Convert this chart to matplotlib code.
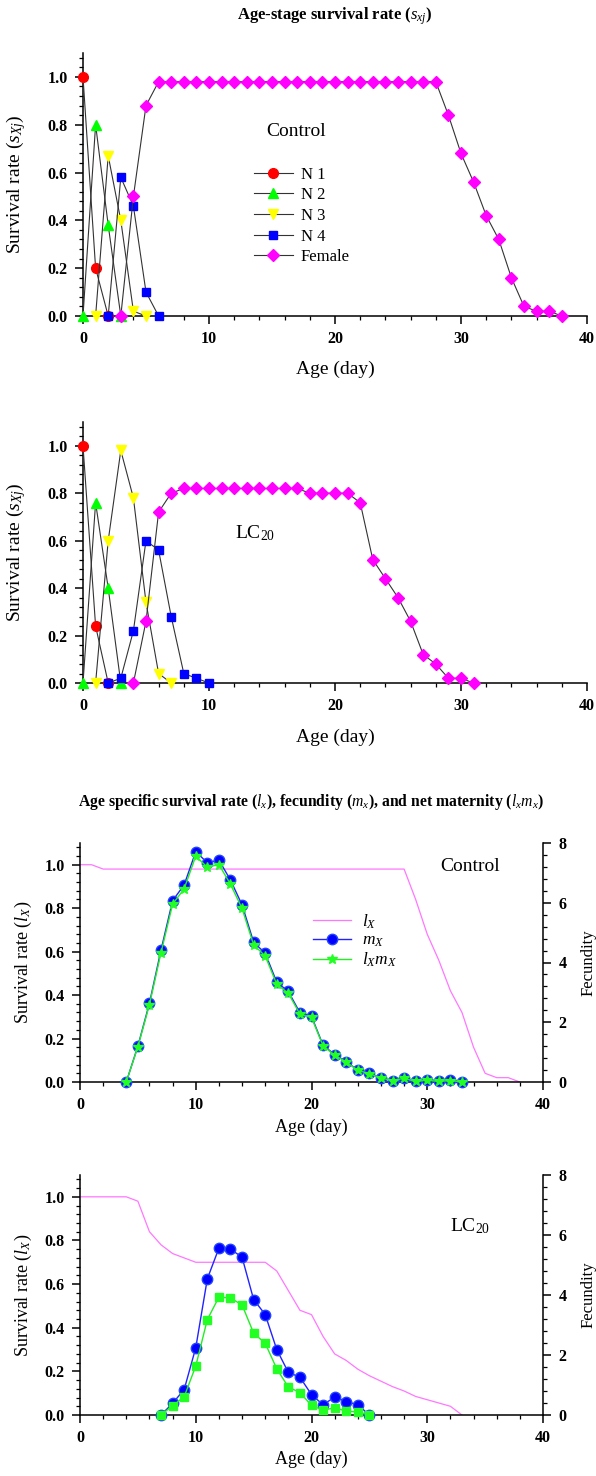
import numpy as np
from matplotlib import pyplot as plt
from matplotlib.ticker import MultipleLocator, FormatStrFormatter

# bold is the default so the tick labels come out bold, other text is set normal
plt.rcParams['font.family'] = 'Liberation Serif'
plt.rcParams['font.weight'] = 'bold'
plt.rcParams['axes.labelweight'] = 'normal'
plt.rcParams['mathtext.fontset'] = 'custom'
plt.rcParams['mathtext.rm'] = 'Liberation Serif:weight=normal'
plt.rcParams['mathtext.it'] = 'Liberation Serif:style=italic:weight=normal'
plt.rcParams['mathtext.bf'] = 'Liberation Serif:weight=bold'

# -------------------------------------------------------------------
# age-stage survival, control
ctrl_n1_x = [0, 1, 2]
ctrl_n1_y = [1.0, 0.2, 0.0]
ctrl_n2_x = [0, 1, 2, 3]
ctrl_n2_y = [0.0, 0.8, 0.38, 0.0]
ctrl_n3_x = [1, 2, 3, 4, 5]
ctrl_n3_y = [0.0, 0.67, 0.40, 0.02, 0.0]
ctrl_n4_x = [2, 3, 4, 5, 6]
ctrl_n4_y = [0.0, 0.58, 0.46, 0.10, 0.0]
ctrl_fem_x = list(range(3, 39))
ctrl_fem_y = [0.0, 0.50, 0.88, 0.98, 0.98, 0.98, 0.98, 0.98, 0.98, 0.98,
              0.98, 0.98, 0.98, 0.98, 0.98, 0.98, 0.98, 0.98, 0.98, 0.98,
              0.98, 0.98, 0.98, 0.98, 0.98, 0.98, 0.84, 0.68, 0.56, 0.42,
              0.32, 0.16, 0.04, 0.02, 0.02, 0.0]

# age-stage survival, LC20
lc_n1_x = [0, 1, 2]
lc_n1_y = [1.0, 0.24, 0.0]
lc_n2_x = [0, 1, 2, 3]
lc_n2_y = [0.0, 0.76, 0.40, 0.0]
lc_n3_x = [1, 2, 3, 4, 5, 6, 7]
lc_n3_y = [0.0, 0.60, 0.98, 0.78, 0.34, 0.04, 0.0]
lc_n4_x = [2, 3, 4, 5, 6, 7, 8, 9, 10]
lc_n4_y = [0.0, 0.02, 0.22, 0.60, 0.56, 0.28, 0.04, 0.02, 0.0]
lc_fem_x = list(range(4, 32))
lc_fem_y = [0.0, 0.26, 0.72, 0.80, 0.82, 0.82, 0.82, 0.82, 0.82, 0.82,
            0.82, 0.82, 0.82, 0.82, 0.80, 0.80, 0.80, 0.80, 0.76, 0.52,
            0.44, 0.36, 0.26, 0.12, 0.08, 0.02, 0.02, 0.0]

stage_names = ['N 1', 'N 2', 'N 3', 'N 4', 'Female']

# lx, mx, lxmx, control
ctrl_lx_x = list(range(0, 39))
ctrl_lx = [1.0, 1.0, 0.98, 0.98, 0.98, 0.98, 0.98, 0.98, 0.98, 0.98,
           0.98, 0.98, 0.98, 0.98, 0.98, 0.98, 0.98, 0.98, 0.98, 0.98,
           0.98, 0.98, 0.98, 0.98, 0.98, 0.98, 0.98, 0.98, 0.98, 0.84,
           0.68, 0.56, 0.42, 0.32, 0.16, 0.04, 0.02, 0.02, 0.0]
ctrl_mx_x = list(range(4, 34))
ctrl_mx = [0.0, 1.20, 2.64, 4.42, 6.07, 6.60, 7.71, 7.34, 7.43, 6.76,
           5.93, 4.68, 4.31, 3.34, 3.03, 2.32, 2.20, 1.23, 0.92, 0.68,
           0.40, 0.29, 0.13, 0.05, 0.12, 0.02, 0.08, 0.03, 0.07, 0.0]
ctrl_lxmx = [0.0, 1.18, 2.59, 4.33, 5.95, 6.47, 7.56, 7.19, 7.28, 6.62,
             5.81, 4.59, 4.22, 3.27, 2.97, 2.27, 2.16, 1.21, 0.90, 0.67,
             0.39, 0.28, 0.13, 0.05, 0.12, 0.02, 0.06, 0.02, 0.05, 0.0]

# lx, mx, lxmx, LC20
lc_lx_x = list(range(0, 34))
lc_lx = [1.0, 1.0, 1.0, 1.0, 1.0, 0.98, 0.84, 0.78, 0.74, 0.72,
         0.70, 0.70, 0.70, 0.70, 0.70, 0.70, 0.70, 0.66, 0.57, 0.48,
         0.46, 0.36, 0.28, 0.25, 0.21, 0.18, 0.155, 0.13, 0.11, 0.085,
         0.07, 0.055, 0.04, 0.0]
lc_mx_x = list(range(7, 26))
lc_mx = [0.0, 0.39, 0.85, 2.24, 4.54, 5.56, 5.53, 5.26, 3.85, 3.35,
         2.18, 1.42, 1.26, 0.68, 0.34, 0.60, 0.45, 0.34, 0.0]
lc_lxmx = [0.0, 0.31, 0.61, 1.63, 3.18, 3.93, 3.90, 3.67, 2.73, 2.39,
           1.54, 0.93, 0.75, 0.32, 0.16, 0.24, 0.13, 0.10, 0.0]

# -------------------------------------------------------------------
W, H = 596, 1476
fig = plt.figure(figsize=(W / 100, H / 100), dpi=100)


def box(left, right, top, bottom):
    return [left / W, 1 - bottom / H, (right - left) / W, (bottom - top) / H]


def style_axis(ax, ylabel, lab_x, lab_y, fs):
    ax.set_xlim(0, 40)
    ax.set_ylim(0, 1.1)
    ax.xaxis.set_major_locator(MultipleLocator(10))
    ax.xaxis.set_minor_locator(MultipleLocator(2))
    ax.yaxis.set_major_locator(MultipleLocator(0.2))
    ax.yaxis.set_minor_locator(MultipleLocator(0.04))
    ax.yaxis.set_major_formatter(FormatStrFormatter('%.1f'))
    for s in ['top', 'right']:
        ax.spines[s].set_visible(False)
    for s in ['left', 'bottom']:
        ax.spines[s].set_linewidth(1.1)
    ax.tick_params(which='major', direction='out', length=6, width=1.1,
                   labelsize=11.5, pad=5)
    ax.tick_params(which='minor', direction='out', length=3, width=0.9)
    ax.set_xlabel('Age (day)', fontsize=fs, fontweight='normal')
    ax.set_ylabel(ylabel, fontsize=fs, fontweight='normal')
    ax.yaxis.set_label_coords(lab_x, 0.5)
    ax.xaxis.set_label_coords(0.5, lab_y)


stage_style = [('o', '#ff0000'), ('^', '#00ff00'), ('v', '#ffff00'),
               ('s', '#0000ff'), ('D', '#ff00ff')]


def stage_panel(ax, xs, ys, tag, tag_xy, legend):
    for i in range(len(xs)):
        mk, col = stage_style[i]
        ms = 6 if mk in ['s', 'D'] else 7
        ax.plot(xs[i], ys[i], color='#333333', lw=0.8, marker=mk, ms=ms,
                mfc=col, mec=col, label=stage_names[i], clip_on=False,
                zorder=3 + i)
    ax.text(tag_xy[0], tag_xy[1], tag, transform=ax.transAxes, fontsize=14,
            fontweight='normal', ha='center', va='center')
    if legend:
        ax.legend(loc='upper left', bbox_to_anchor=(0.31, 0.625), frameon=False,
                  prop={'size': 12, 'weight': 'normal'}, handlelength=2.3,
                  labelspacing=0.28, handletextpad=0.5)


# -------------------------------------------------------------------
ax1 = fig.add_axes(box(83, 587, 53, 316))
stage_panel(ax1, [ctrl_n1_x, ctrl_n2_x, ctrl_n3_x, ctrl_n4_x, ctrl_fem_x],
            [ctrl_n1_y, ctrl_n2_y, ctrl_n3_y, ctrl_n4_y, ctrl_fem_y],
            'Control', (0.423, 0.703), True)
style_axis(ax1, r'Survival rate ($s_{Xj}$)', -0.11, -0.17, 14)

ax2 = fig.add_axes(box(83, 587, 422, 683))
stage_panel(ax2, [lc_n1_x, lc_n2_x, lc_n3_x, lc_n4_x, lc_fem_x],
            [lc_n1_y, lc_n2_y, lc_n3_y, lc_n4_y, lc_fem_y],
            r'LC$_{20}$', (0.341, 0.575), False)
style_axis(ax2, r'Survival rate ($s_{Xj}$)', -0.11, -0.175, 14)

fig.text(335 / W, 1 - 16 / H, r'Age-stage survival rate ($s_{xj}$)',
         fontsize=12, fontweight='bold', ha='center', va='center')
fig.text(311 / W, 1 - 802 / H,
         r'Age specific survival rate ($l_x$), fecundity ($m_x$), '
         r'and net maternity ($l_xm_x$)',
         fontsize=11.3, fontweight='bold', ha='center', va='center')


# -------------------------------------------------------------------
def life_panel(ax, lx_x, lx, mx_x, mx, lxmx, mk2, tag, tag_xy, legend):
    h1, = ax.plot(lx_x, lx, color='#ff77ff', lw=0.9, label=r'$l_X$')
    axr = ax.twinx()
    h2, = axr.plot(mx_x, mx, color='#2222ff', lw=1.0, marker='o', ms=7.5,
                   mfc='#0000ff', mec='#2244ff', label=r'$m_X$',
                   clip_on=False, zorder=3)
    ms2 = 7 if mk2 == '*' else 5.5
    h3, = axr.plot(mx_x, lxmx, color='#22ee22', lw=1.0, marker=mk2, ms=ms2,
                   mfc='#22ff22', mec='#22ff22', label=r'$l_Xm_X$',
                   clip_on=False, zorder=4)
    axr.set_ylim(0, 8)
    axr.yaxis.set_major_locator(MultipleLocator(2))
    axr.yaxis.set_minor_locator(MultipleLocator(0.4))
    for s in ['top', 'left', 'bottom']:
        axr.spines[s].set_visible(False)
    axr.spines['right'].set_linewidth(1.1)
    axr.tick_params(which='major', direction='out', length=6, width=1.1,
                    labelsize=11.5, pad=5)
    axr.tick_params(which='minor', direction='out', length=3, width=0.9)
    axr.set_ylabel('Fecundity', fontsize=12, fontweight='normal')
    axr.yaxis.set_label_coords(1.08, 0.5)
    ax.text(tag_xy[0], tag_xy[1], tag, transform=ax.transAxes, fontsize=14,
            fontweight='normal', ha='center', va='center')
    if legend:
        ax.legend(handles=[h1, h2, h3], loc='upper left',
                  bbox_to_anchor=(0.47, 0.775), frameon=False,
                  prop={'size': 12.5, 'weight': 'normal'},
                  handlelength=2.2, labelspacing=0.1, handletextpad=0.6)


ax3 = fig.add_axes(box(80, 543, 843, 1082))
style_axis(ax3, r'Survival rate ($l_X$)', -0.1, -0.155, 13)
life_panel(ax3, ctrl_lx_x, ctrl_lx, ctrl_mx_x, ctrl_mx, ctrl_lxmx, '*',
           'Control', (0.842, 0.9), True)

ax4 = fig.add_axes(box(80, 543, 1175, 1415))
style_axis(ax4, r'Survival rate ($l_X$)', -0.1, -0.15, 13)
life_panel(ax4, lc_lx_x, lc_lx, lc_mx_x, lc_mx, lc_lxmx, 's',
           r'LC$_{20}$', (0.842, 0.785), False)

plt.savefig('out.png', dpi=100)
